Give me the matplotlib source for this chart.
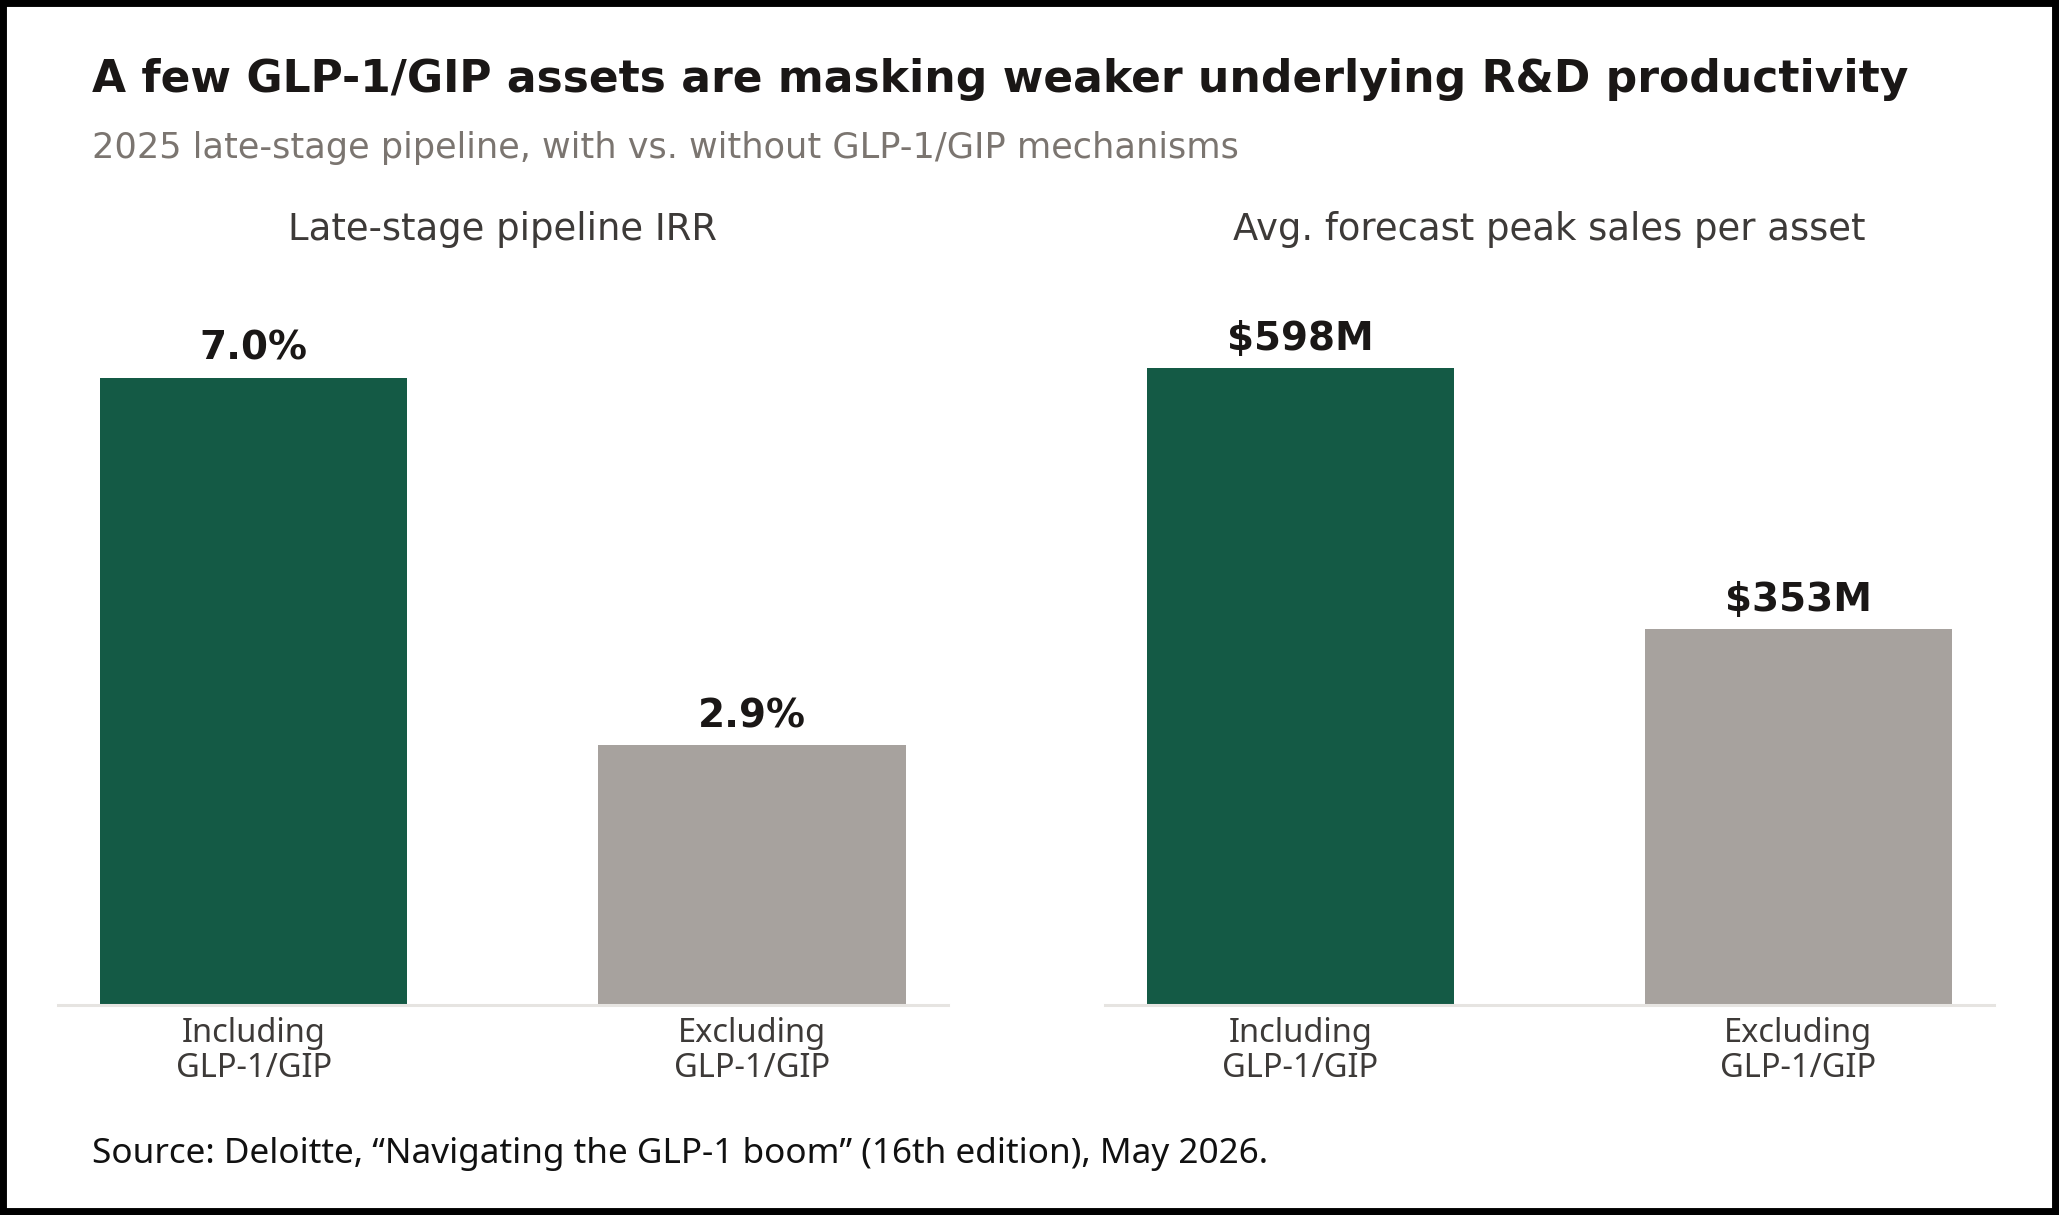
import matplotlib
matplotlib.use("Agg")
import matplotlib.pyplot as plt
from matplotlib.patches import Rectangle

# data
categories = ["Including\nGLP-1/GIP", "Excluding\nGLP-1/GIP"]
irr_values = [7.0, 2.9]
irr_labels = ["7.0%", "2.9%"]
sales_values = [598, 353]
sales_labels = ["$598M", "$353M"]
panel_titles = ["Late-stage pipeline IRR", "Avg. forecast peak sales per asset"]

title = "A few GLP-1/GIP assets are masking weaker underlying R&D productivity"
subtitle = "2025 late-stage pipeline, with vs. without GLP-1/GIP mechanisms"
source = "Source: Deloitte, \u201cNavigating the GLP-1 boom\u201d (16th edition), May 2026."

bar_colors = ["#145A45", "#A7A29E"]

W, H = 2059, 1215
fig = plt.figure(figsize=(W / 100, H / 100), dpi=100)
fig.patch.set_facecolor("white")


def fx(px):
    return px / W


def fy(py):
    return 1 - py / H


ax_bottom, ax_top = 1005, 300
axes_spec = [
    (58, 948, irr_values, irr_labels, 7.871, panel_titles[0]),
    (1105, 1994, sales_values, sales_labels, 661.8, panel_titles[1]),
]

for x0, x1, vals, labs, ymax, ptitle in axes_spec:
    ax = fig.add_axes([fx(x0), fy(ax_bottom), fx(x1 - x0), (ax_bottom - ax_top) / H])
    xs = range(len(vals))
    bars = ax.bar(xs, vals, width=0.617, color=bar_colors, zorder=2)
    ax.set_xlim(-0.3926, 1.3936)
    ax.set_ylim(0, ymax)
    for b, lab in zip(bars, labs):
        ax.annotate(lab, (b.get_x() + b.get_width() / 2, b.get_height()),
                    xytext=(0, 13), textcoords="offset points",
                    ha="center", va="baseline", fontsize=28,
                    fontweight="bold", color="#1a1716")
    ax.set_xticks(list(xs))
    ax.set_xticklabels(categories, fontsize=23.5, color="#3d3a38",
                       family="Noto Sans", linespacing=1.1)
    ax.tick_params(axis="x", length=0, pad=8.5)
    ax.set_yticks([])
    for s in ["top", "left", "right"]:
        ax.spines[s].set_visible(False)
    ax.spines["bottom"].set_color("#e6e4e1")
    ax.spines["bottom"].set_linewidth(2.2)
    fig.text(fx((x0 + x1) / 2), fy(240), ptitle, ha="center", va="baseline",
             fontsize=26.6, color="#3d3a38")

fig.text(fx(92), fy(92), title, ha="left", va="baseline", fontsize=31.7,
         fontweight="bold", color="#1a1716")
fig.text(fx(92), fy(158), subtitle, ha="left", va="baseline", fontsize=25.3,
         color="#7b7570")
fig.text(fx(92), fy(1163), source, ha="left", va="baseline", fontsize=25.3,
         color="#111111", family="Noto Sans")

fig.patches.append(Rectangle((0, 0), 1, 1, transform=fig.transFigure,
                             fill=False, edgecolor="black", linewidth=10,
                             zorder=10))

fig.savefig("out.png", dpi=100)
